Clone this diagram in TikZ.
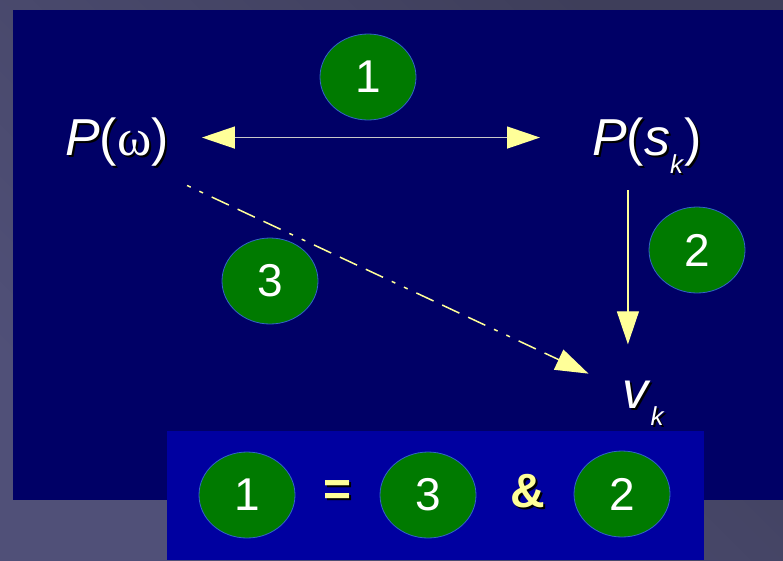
\documentclass[tikz,border=0pt]{standalone}
\usepackage{fontspec}
\setmainfont{Liberation Sans}
\newfontfamily\greekfont{Liberation Serif}
\usetikzlibrary{arrows.meta,shapes.geometric}
\definecolor{slidegray}{RGB}{80,80,120}
\definecolor{slidegraydk}{RGB}{62,62,90}
\definecolor{navy}{RGB}{0,0,102}
\definecolor{boxblue}{RGB}{0,0,160}
\definecolor{bubblegreen}{RGB}{0,122,0}
\definecolor{bubbleedge}{RGB}{50,100,200}
\definecolor{tipyellow}{RGB}{255,255,153}
\definecolor{linegray}{RGB}{200,200,200}
\newcommand\shadowed[1]{\makebox[0pt][l]{\hspace{2pt}\raisebox{-2pt}{\color{black}#1}}#1}

\begin{document}
\begin{tikzpicture}[x=1pt,y=-1pt,
  bubble/.style={ellipse,draw=bubbleedge,line width=0.8pt,fill=bubblegreen,
    minimum width=96pt,minimum height=86pt,inner sep=0pt,text=white,
    font=\fontsize{46}{50}\selectfont},
  formula/.style={inner sep=0pt,anchor=base west,text=white,
    font=\fontsize{52}{60}\selectfont},
  opsign/.style={inner sep=0pt,text=tipyellow,font=\fontsize{48}{52}\selectfont\bfseries},
  bigtip/.style={-{Triangle[length=33pt,width=22pt,color=tipyellow,fill=tipyellow]}}]
\shade[left color=slidegray,right color=slidegraydk,shading angle=135] (0,0) rectangle (783,560);
\fill[navy] (13,10) rectangle (783,500);
\fill[boxblue] (167,431) rectangle (704,560);
\node[formula] (pw) at (65,155) {\shadowed{\textit{P}({\greekfont ω})}};
\node[formula] (ps) at (592,155) {\shadowed{\textit{P}(\textit{s}\raisebox{-18pt}{\fontsize{26}{28}\selectfont\textit{k}})}};
\node[formula] (vk) at (622,408) {\shadowed{\textit{v}\raisebox{-17pt}{\fontsize{26}{28}\selectfont\textit{k}}}};
\node[bubble] (one) at (368,77) {1};
\node[bubble] (two) at (697,250) {2};
\node[bubble] (three) at (270,281) {3};
\draw[linegray,line width=1.5pt,{Triangle[length=33pt,width=22pt,color=tipyellow,fill=tipyellow]}-{Triangle[length=33pt,width=22pt,color=tipyellow,fill=tipyellow]},
  shorten <=33pt,shorten >=52pt] ([yshift=5pt]pw.east) -- ([yshift=5pt]pw.east -| ps.west);
\draw[tipyellow,line width=1.2pt,bigtip,shorten <=15pt,shorten >=36pt]
  ([xshift=-19pt]ps.south) -- ([xshift=-19pt]ps.south |- vk.north);
\draw[tipyellow,line width=1.5pt,bigtip,shorten <=20pt,shorten >=37pt,
  dash pattern=on 4pt off 9.6pt on 4pt off 9.6pt on 19pt off 9.6pt on 19pt off 9.6pt on 19pt off 9.6pt]
  ([yshift=-9pt]pw.south east) -- ([yshift=-9pt]vk.north west);
\node[bubble] (eqone) at (247,495) {1};
\node[opsign] (eq) at (338,494) {\shadowed{=}};
\node[bubble] (eqthree) at (428,495) {3};
\node[opsign] (amp) at (528,492) {\shadowed{\&}};
\node[bubble] (eqtwo) at (622,494) {2};
\end{tikzpicture}
\end{document}
